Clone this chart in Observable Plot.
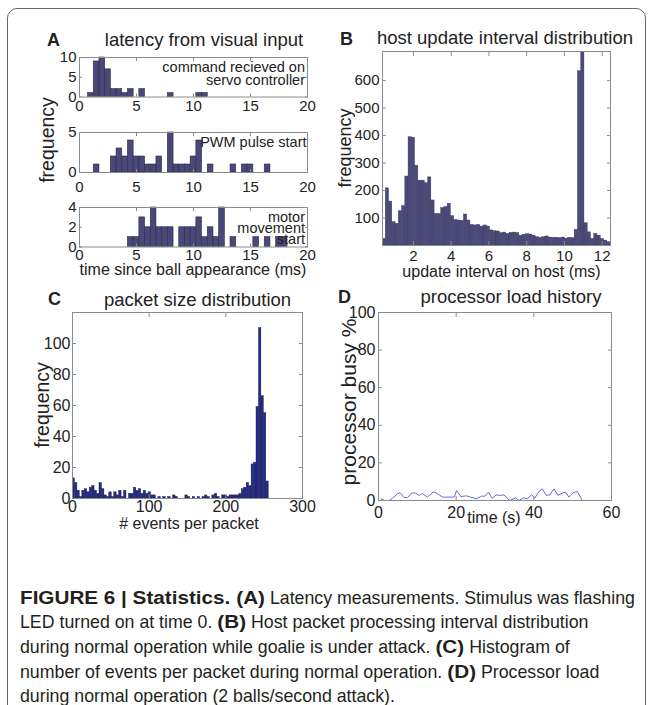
<!DOCTYPE html>
<html><head><meta charset="utf-8">
<script src="https://cdn.jsdelivr.net/npm/d3@7"></script>
<script src="https://cdn.jsdelivr.net/npm/@observablehq/plot@0.6"></script>
<style>
body{margin:0;background:#fff;}
#fig{position:relative;width:653px;height:705px;overflow:hidden;background:#fff;}
#border{position:absolute;left:7px;top:8px;width:637px;height:760px;border:1.5px solid #666;border-radius:10px;}
</style></head>
<body><div id="fig"><div id="border"></div></div>
<script>
// ---------- data ----------
// Panel A: latency histograms (bin width 0.5 ms, bin centres)
const aXTicks = [0, 5, 10, 15, 20];
const a1Centers = [1, 1.5, 2, 2.5, 3, 3.5, 4, 4.5, 5.5, 8, 10.5, 11];
const a1Counts  = [1, 9, 10, 7, 2, 2, 1, 2, 2, 1, 1, 1];
const a1YTicks = [0, 5, 10];
const a2Centers = [1.5, 3, 3.5, 4, 4.5, 5, 5.5, 6, 6.5, 7, 8, 8.5, 9, 9.5, 10, 10.5, 11.5, 13.5, 14.5, 15, 16.5];
const a2Counts  = [1, 2, 3, 2, 4, 2, 2, 1, 1, 2, 5, 1, 1, 1, 2, 4, 1, 1, 1, 1, 1];
const a2YTicks = [0, 5];
const a3Centers = [4.5, 5, 5.5, 6, 6.5, 7, 7.5, 8, 9, 9.5, 10, 10.5, 11, 11.5, 12, 12.5, 13.5, 15.5, 16.5, 17.5, 18];
const a3Counts  = [1, 1, 3, 2, 4, 2, 2, 2, 2, 2, 2, 3, 1, 2, 1, 4, 1, 1, 1, 1, 1];
const a3YTicks = [0, 2, 4];
const aBinWidth = 0.5;

// Panel B: host update interval histogram (70 equal bins over the range)
const bRange = [0.36, 12.44];
const bCounts = [24,208,160,85,79,125,143,251,394,392,290,236,236,227,248,164,115,115,136,140,
  152,107,93,91,90,113,91,75,73,75,69,73,69,55,52,51,45,47,42,46,
  47,45,36,39,41,40,36,30,28,30,33,29,28,28,27,29,25,28,27,57,
  634,720,81,48,24,42,36,24,18,12];
const bYMax = 706;
const bXTicks = [2, 4, 6, 8, 10, 12];
const bYTicks = [100, 200, 300, 400, 500, 600];

// Panel C: packet size histogram (bin width 3.2 events)
const cBinWidth = 3.2;
const cCounts = [13,10,5,1,5,6,4,7,8,5,3,10,6,2,1,4,1,4,2,5,1,5,0,3,3,7,5,6,3,5,3,
  4,2,2,0,1,0,1,0,1,0,
  2,1,0,0,0,2,1,0,1,0,
  1,0,1,2,1,0,2,3,1,0,
  2,2,1,2,2,2,2,3,
  6,7,10,8,22,23,59,110,66,55,11];
const cXTicks = [0, 100, 200, 300];
const cYTicks = [0, 20, 40, 60, 80, 100];

// Panel D: processor load history
const dTime = [0.6,1.5,2.7,3.6,4.9,5.6,6.6,7.5,8.6,9.6,10.5,11.3,12.6,14.1,15.2,16.5,19.5,20.1,21.2,22.6,
  23.7,25.2,26.5,27.4,28.3,29.3,30.3,31.4,32.3,33.8,35.3,36.2,37.3,38.3,39.4,40.3,41.3,42.2,43.2,44.1,
  45.2,46.2,47.3,48.2,49.0,50.1,51.2,52.5,54.2];
const dLoad = [0.9,0,0,1.2,3.6,4.1,1.6,1.6,4.1,3.9,2.7,3.7,1.8,4.6,3.6,1.8,1.8,5.3,2.1,2.5,
  1.8,0.9,2.3,2.3,4.4,1.2,3.0,2.7,3.0,0,1.4,0,1.4,0.9,3.0,1.4,4.8,6.2,2.7,3.0,
  6.2,2.7,3.9,4.4,1.8,4.1,4.8,0,0];
const dXTicks = [0, 20, 40, 60];
const dYTicks = [0, 20, 40, 60, 80, 100];

// ---------- style ----------
const FONT = '"Liberation Sans", Arial, Helvetica, sans-serif';
const AXC = "#8c8c8c";
const TXT = "#222";
const fig = document.getElementById("fig");

function panel(o) {
  const ml = 60, mr = 12, mt = 12, mb = 34;
  const tk = o.tick ?? 4;
  const p = Plot.plot({
    width: o.w + ml + mr, height: o.h + mt + mb,
    marginLeft: ml, marginRight: mr, marginTop: mt, marginBottom: mb,
    style: {fontFamily: FONT, fontSize: o.fs + "px", background: "transparent", overflow: "visible", color: TXT},
    x: {domain: o.xd, label: null},
    y: {domain: o.yd, label: null},
    marks: [
      ...o.marks,
      Plot.frame({stroke: AXC, strokeWidth: 1}),
      Plot.axisX({ticks: o.xt, anchor: "bottom", tickSize: -tk, tickFormat: () => "", stroke: AXC, label: null}),
      Plot.axisX({ticks: o.xt, anchor: "top", tickSize: -tk, tickFormat: () => "", stroke: AXC, label: null}),
      Plot.axisY({ticks: o.yt, anchor: "left", tickSize: -tk, tickFormat: () => "", stroke: AXC, label: null}),
      Plot.axisY({ticks: o.yt, anchor: "right", tickSize: -tk, tickFormat: () => "", stroke: AXC, label: null}),
      Plot.axisX({ticks: o.xt, anchor: "bottom", tickSize: 0, tickPadding: o.xpad, fill: TXT, fontSize: o.fs, label: null, tickFormat: d => String(d)}),
      Plot.axisY({ticks: o.yt, anchor: "left", tickSize: 0, tickPadding: o.ypad, fill: TXT, fontSize: o.fs, label: null, tickFormat: d => String(d)})
    ]
  });
  p.style.position = "absolute";
  p.style.left = (o.x - ml) + "px";
  p.style.top = (o.y - mt) + "px";
  fig.appendChild(p);
}

function aBars(centers, counts) {
  const data = centers.map((c, i) => ({x1: c - aBinWidth / 2, x2: c + aBinWidth / 2, v: counts[i]}));
  return Plot.rect(data, {x1: "x1", x2: "x2", y1: () => 0, y2: "v", fill: "#4a4879", stroke: "#2b2a48", strokeWidth: 0.6});
}

const aOpts = {x: 79, w: 228, xd: [0, 20], xt: aXTicks, fs: 15, ypad: 3, tick: 3};
panel({...aOpts, y: 57, h: 39.5, xpad: 3, yd: [0, 10], yt: a1YTicks, marks: [aBars(a1Centers, a1Counts)]});
panel({...aOpts, y: 132, h: 40, xpad: 9, yd: [0, 5], yt: a2YTicks, marks: [aBars(a2Centers, a2Counts)]});
panel({...aOpts, y: 207, h: 39.5, xpad: 2, yd: [0, 4], yt: a3YTicks, marks: [aBars(a3Centers, a3Counts)]});

// Panel B
const bW = (bRange[1] - bRange[0]) / bCounts.length;
const bData = bCounts.map((v, i) => ({x1: bRange[0] + i * bW, x2: bRange[0] + (i + 1) * bW, v}));
panel({x: 382, y: 51, w: 228, h: 194, xd: bRange, yd: [0, bYMax], xt: bXTicks, yt: bYTicks, fs: 15, xpad: 5, ypad: 3,
  marks: [Plot.rect(bData, {x1: "x1", x2: "x2", y1: () => 0, y2: "v", fill: "#4b4977", stroke: "#3b3965", strokeWidth: 0.4, clip: true})]});

// Panel C
const cData = cCounts.map((v, i) => ({x1: i * cBinWidth, x2: (i + 1) * cBinWidth, v}));
panel({x: 72, y: 312, w: 230, h: 186, xd: [0, 300], yd: [0, 120], xt: cXTicks, yt: cYTicks, fs: 16, xpad: 2, ypad: 2,
  marks: [Plot.rect(cData.filter(d => d.v > 0), {x1: "x1", x2: "x2", y1: () => 0, y2: "v", fill: "#252b7d", stroke: "#1b1f5c", strokeWidth: 0.4, clip: true})]});

// Panel D
const dData = dTime.map((t, i) => ({t, v: dLoad[i]}));
panel({x: 378, y: 312, w: 233, h: 188, xd: [0, 60], yd: [0, 100], xt: dXTicks, yt: dYTicks, fs: 16, xpad: 6, ypad: 3,
  marks: [Plot.line(dData, {x: "t", y: "v", stroke: "#6a6ad6", strokeWidth: 1})]});

// ---------- text overlay ----------
const ov = d3.select(fig).append("svg")
  .attr("width", 653).attr("height", 705)
  .style("position", "absolute").style("left", "0px").style("top", "0px")
  .style("font-family", FONT);

function txt(x, y, str, {size = 16, anchor = "middle", weight = "normal", rotate = 0} = {}) {
  const t = ov.append("text").attr("font-size", size).attr("font-weight", weight)
    .attr("text-anchor", anchor).attr("fill", TXT).text(str);
  if (rotate) t.attr("transform", `translate(${x},${y}) rotate(${rotate})`).attr("dominant-baseline", "central");
  else t.attr("x", x).attr("y", y);
  return t;
}

// panel letters
txt(47, 46, "A", {size: 18, anchor: "start", weight: "bold"});
txt(340, 45, "B", {size: 18, anchor: "start", weight: "bold"});
txt(48, 305, "C", {size: 18, anchor: "start", weight: "bold"});
txt(338, 303, "D", {size: 18, anchor: "start", weight: "bold"});

// titles
txt(204, 45.5, "latency from visual input", {size: 18.5});
txt(505, 44, "host update interval distribution", {size: 18.5});
txt(197.5, 306, "packet size distribution", {size: 18.5});
txt(511, 303, "processor load history", {size: 18.5});

// axis labels
txt(193, 275, "time since ball appearance (ms)", {size: 16});
txt(501.5, 276.5, "update interval on host (ms)", {size: 16});
txt(189, 528.5, "# events per packet", {size: 16});
txt(494, 522.5, "time (s)", {size: 16});
txt(47, 140, "frequency", {size: 19.5, rotate: -90});
txt(345, 148, "frequency", {size: 18, rotate: -90});
txt(42, 405, "frequency", {size: 19.5, rotate: -90});
txt(348, 402, "processor busy %", {size: 21, rotate: -90});

// annotations in A
txt(305, 71.5, "command recieved on", {size: 14.5, anchor: "end"});
txt(305, 85, "servo controller", {size: 14.5, anchor: "end"});
txt(306.5, 146.5, "PWM pulse start", {size: 14.5, anchor: "end"});
txt(305, 222.3, "motor", {size: 14.5, anchor: "end"});
txt(305, 233.3, "movement", {size: 14.5, anchor: "end"});
txt(305, 243.5, "start", {size: 14.5, anchor: "end"});

// ---------- caption ----------
const captionLines = [
  [["FIGURE 6 | Statistics. ", true], ["(A)", true], [" Latency measurements. Stimulus was flashing", false]],
  [["LED turned on at time 0. ", false], ["(B)", true], [" Host packet processing interval distribution", false]],
  [["during normal operation while goalie is under attack. ", false], ["(C)", true], [" Histogram of", false]],
  [["number of events per packet during normal operation. ", false], ["(D)", true], [" Processor load", false]],
  [["during normal operation (2 balls/second attack).", false]]
];
const capBaselines = [603.5, 628.3, 653.1, 677.9, 702.2];
const capLeft = 20, capLine1Width = 615, capLine5Width = 375;
const cap = ov.append("g");
const segEls = captionLines.map((segs, i) => segs.map(([s, b]) => {
  const t = cap.append("text").attr("font-size", 18.5).attr("font-weight", b ? "bold" : "normal")
    .attr("fill", "#231f20").style("white-space", "pre").text(s);
  return {t, b, len: t.node().getComputedTextLength()};
}));
const sReg = capLine5Width / segEls[4][0].len;
const l1Reg = segEls[0].filter(d => !d.b).reduce((a, d) => a + d.len, 0);
const l1Bold = segEls[0].filter(d => d.b).reduce((a, d) => a + d.len, 0);
const sBold = (capLine1Width - sReg * l1Reg) / l1Bold;
segEls.forEach((segs, i) => {
  let cx = capLeft;
  segs.forEach(d => {
    const s = d.b ? sBold : sReg;
    d.t.attr("transform", `translate(${cx},${capBaselines[i]}) scale(${s},1)`);
    cx += d.len * s;
  });
});
</script>
</body></html>
